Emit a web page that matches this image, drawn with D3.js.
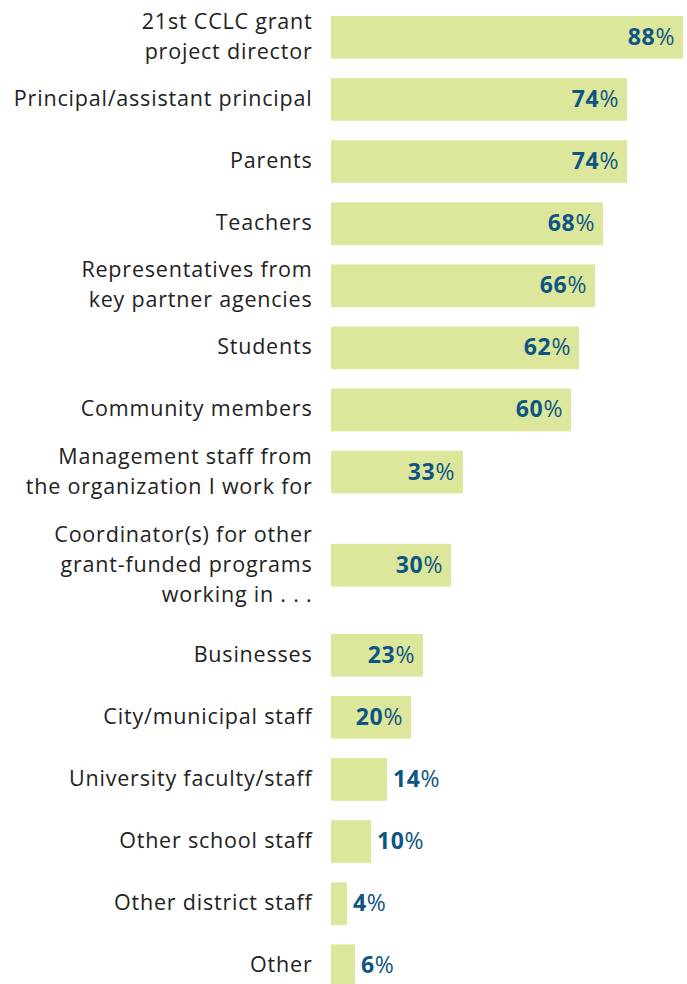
<!DOCTYPE html>
<html>
<head>
<meta charset="utf-8">
<script src="https://cdn.jsdelivr.net/npm/d3@7"></script>
<style>
  html, body { margin: 0; padding: 0; background: #ffffff; }
  svg { display: block; }
</style>
</head>
<body>
<script>
// Who was involved — share of respondents by group
const categories = [
  "21st CCLC grant\nproject director",
  "Principal/assistant principal",
  "Parents",
  "Teachers",
  "Representatives from\nkey partner agencies",
  "Students",
  "Community members",
  "Management staff from\nthe organization I work for",
  "Coordinator(s) for other\ngrant-funded programs\nworking in . . .",
  "Businesses",
  "City/municipal staff",
  "University faculty/staff",
  "Other school staff",
  "Other district staff",
  "Other"
];
const values = [88, 74, 74, 68, 66, 62, 60, 33, 30, 23, 20, 14, 10, 4, 6];

const W = 687, H = 984;
const barLeft = 331;
const rowPitch = 62.1;
const barH = 42.7;
const firstTop = 16;
const extraBefore = 31, extraAfter = 28; // room for three-line labels
const labelRight = 312.5;
const labelLineH = 30;

const barColor = "#dce79c";
const valueColor = "#0e5583";
const labelColor = "#222222";
const fontFamily = "'Open Sans', Lato, sans-serif";

const svg = d3.select("body").append("svg")
  .attr("width", W).attr("height", H);

const x = d3.scaleLinear().domain([0, 100]).range([barLeft, barLeft + 400]);

// Row tops: rows with three label lines get extra space around them
const rows = categories.map((c, i) => ({ label: c, lines: c.split("\n"), value: values[i] }));
let cursor = firstTop;
rows.forEach((r, i) => {
  if (i > 0) cursor += rowPitch;
  if (r.lines.length > 2) cursor += extraBefore;
  r.top = cursor;
  if (r.lines.length > 2) cursor += extraAfter;
});

const g = svg.append("g");

const row = g.selectAll("g.row").data(rows).join("g").attr("class", "row");

row.append("rect")
  .attr("x", x(0))
  .attr("y", d => d.top)
  .attr("width", d => x(d.value) - x(0))
  .attr("height", barH)
  .attr("fill", barColor);

// Category labels, right-aligned against the bars
row.append("text")
  .attr("text-anchor", "end")
  .attr("font-family", fontFamily)
  .attr("font-size", 21.5)
  .attr("letter-spacing", 0.8)
  .attr("fill", labelColor)
  .each(function(d) {
    const n = d.lines.length;
    const center = d.top + barH / 2;
    const firstBase = center + 6.5 - (n - 1) * labelLineH / 2;
    d3.select(this).selectAll("tspan").data(d.lines).join("tspan")
      .attr("x", labelRight)
      .attr("y", (l, k) => firstBase + k * labelLineH)
      .text(l => l);
  });

// Value labels: inside the bar when wide enough, otherwise just past its end
const insideMin = 20;
const vt = row.append("text")
  .attr("font-family", fontFamily)
  .attr("font-size", 23)
  .attr("letter-spacing", 0.6)
  .attr("fill", valueColor)
  .attr("text-anchor", d => d.value >= insideMin ? "end" : "start")
  .attr("x", d => d.value >= insideMin ? x(d.value) - 8 : x(d.value) + 6)
  .attr("y", d => d.top + barH / 2 + 7.5);
vt.append("tspan").attr("font-weight", 700).text(d => d.value);
vt.append("tspan").attr("font-weight", 400).text("%");
</script>
</body>
</html>
